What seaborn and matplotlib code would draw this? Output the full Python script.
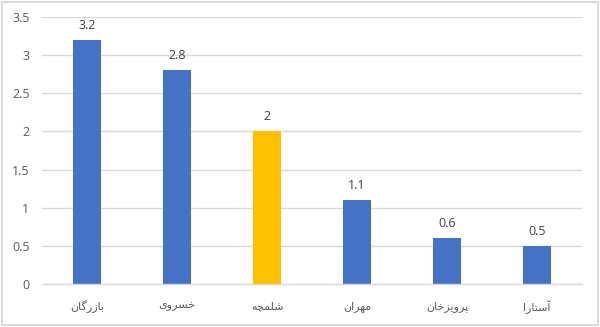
import matplotlib
matplotlib.use("Agg")
import matplotlib.pyplot as plt
import seaborn as sns
import pandas as pd
from matplotlib.patches import Rectangle

categories = ["بازرگان", "خسروی", "شلمچه", "مهران", "پرویزخان", "آستارا"]
values = [3.2, 2.8, 2.0, 1.1, 0.6, 0.5]
bar_colors = ["#4472C4", "#4472C4", "#FFC000", "#4472C4", "#4472C4", "#4472C4"]
value_labels = ["3.2", "2.8", "2", "1.1", "0.6", "0.5"]
y_ticks = [0, 0.5, 1, 1.5, 2, 2.5, 3, 3.5]
y_tick_labels = ["0", "0.5", "1", "1.5", "2", "2.5", "3", "3.5"]

# --- minimal Persian shaping (presentation forms + RTL order) ---
FORMS = {  # iso, fin, init, med
    "\u0627": ("\uFE8D", "\uFE8E", None, None),
    "\u0622": ("\uFE81", "\uFE82", None, None),
    "\u0628": ("\uFE8F", "\uFE90", "\uFE91", "\uFE92"),
    "\u067E": ("\uFB56", "\uFB57", "\uFB58", "\uFB59"),
    "\u062A": ("\uFE95", "\uFE96", "\uFE97", "\uFE98"),
    "\u0686": ("\uFB7A", "\uFB7B", "\uFB7C", "\uFB7D"),
    "\u062E": ("\uFEA5", "\uFEA6", "\uFEA7", "\uFEA8"),
    "\u0631": ("\uFEAD", "\uFEAE", None, None),
    "\u0632": ("\uFEAF", "\uFEB0", None, None),
    "\u0633": ("\uFEB1", "\uFEB2", "\uFEB3", "\uFEB4"),
    "\u0634": ("\uFEB5", "\uFEB6", "\uFEB7", "\uFEB8"),
    "\u06AF": ("\uFB92", "\uFB93", "\uFB94", "\uFB95"),
    "\u0644": ("\uFEDD", "\uFEDE", "\uFEDF", "\uFEE0"),
    "\u0645": ("\uFEE1", "\uFEE2", "\uFEE3", "\uFEE4"),
    "\u0646": ("\uFEE5", "\uFEE6", "\uFEE7", "\uFEE8"),
    "\u0647": ("\uFEE9", "\uFEEA", "\uFEEB", "\uFEEC"),
    "\u0648": ("\uFEED", "\uFEEE", None, None),
    "\u06CC": ("\uFBFC", "\uFBFD", "\uFBFE", "\uFBFF"),
}


def shape(word):
    out = []
    n = len(word)
    for i, ch in enumerate(word):
        if ch not in FORMS:
            out.append(ch)
            continue
        f = FORMS[ch]
        prev_ok = i > 0 and word[i - 1] in FORMS and FORMS[word[i - 1]][2] is not None
        next_ok = f[2] is not None and i < n - 1 and word[i + 1] in FORMS
        if prev_ok and next_ok:
            out.append(f[3])
        elif prev_ok:
            out.append(f[1])
        elif next_ok:
            out.append(f[2])
        else:
            out.append(f[0])
    return "".join(reversed(out))


sns.set_theme(style="white")
plt.rcParams["font.family"] = ["Open Sans", "DejaVu Sans"]

df = pd.DataFrame({"cat": categories, "val": values})

fig = plt.figure(figsize=(6.0, 3.27), dpi=100)
ax = fig.add_axes([0.07, 0.1315, 0.90, 0.8165])

sns.barplot(data=df, x="cat", y="val", hue="cat", palette=bar_colors,
            width=0.31, legend=False, ax=ax, saturation=1, linewidth=0)

ax.set_ylim(0, 3.5)
ax.set_xlim(-0.5, len(categories) - 0.5)
ax.set_yticks(y_ticks)
ax.set_yticklabels(y_tick_labels, color="#595959", fontsize=9)
ax.set_xticks(range(len(categories)))
ax.set_xticklabels([shape(c) for c in categories], color="#595959", fontsize=8,
                   family=["DejaVu Sans"])
ax.tick_params(axis="y", length=0, pad=9)
ax.tick_params(axis="x", length=0, pad=12)
ax.set_xlabel("")
ax.set_ylabel("")
ax.yaxis.grid(True, color="#D9D9D9", linewidth=1)
ax.set_axisbelow(True)
for s in ["top", "right", "left"]:
    ax.spines[s].set_visible(False)
ax.spines["bottom"].set_color("#D9D9D9")
ax.spines["bottom"].set_linewidth(1)

for i, (v, lab) in enumerate(zip(values, value_labels)):
    ax.annotate(lab, (i, v), xytext=(0, 6), textcoords="offset points",
                ha="center", va="bottom", fontsize=9, color="#404040")

fig.patches.append(Rectangle((0.004, 0.006), 0.992, 0.988, transform=fig.transFigure,
                             fill=False, edgecolor="#D9D9D9", linewidth=1.5))

fig.savefig("out.png", dpi=100)
